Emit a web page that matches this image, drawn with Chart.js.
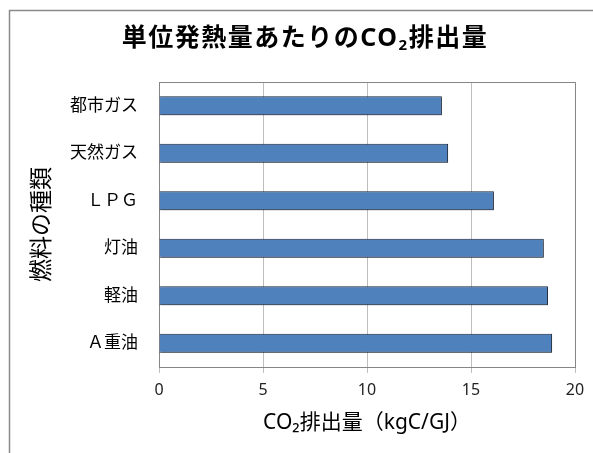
<!DOCTYPE html>
<html>
<head>
<meta charset="utf-8">
<script src="https://cdn.jsdelivr.net/npm/chart.js@4"></script>
<style>
  html, body { margin: 0; padding: 0; background: #fff; }
  #wrap { width: 593px; height: 453px; }
</style>
</head>
<body>
<div id="wrap"><canvas id="co2Chart" width="593" height="453"></canvas></div>
<script>
// fuel types (top to bottom) and CO2 emission per unit of heat (kgC/GJ)
const fuels = ["都市ガス", "天然ガス", "ＬＰＧ", "灯油", "軽油", "Ａ重油"];
const emissions = [13.6, 13.9, 16.1, 18.5, 18.7, 18.9];
const xTicks = [0, 5, 10, 15, 20];

const FONT = "'Noto Sans', 'Noto Sans CJK JP', sans-serif";

// frame, plot box and title with a real subscript
const decorations = {
  id: "decorations",
  beforeDatasetsDraw(chart) {
    const ctx = chart.ctx;
    ctx.save();
    ctx.shadowColor = "rgba(0,0,0,0.35)";
    ctx.shadowOffsetX = 1;
    ctx.shadowOffsetY = 1;
    ctx.shadowBlur = 2;
  },
  afterDatasetsDraw(chart) {
    chart.ctx.restore();
  },
  afterDraw(chart) {
    const ctx = chart.ctx;
    const a = chart.chartArea;
    ctx.save();
    // outer frame (only left and top visible)
    ctx.strokeStyle = "#8a8a8a";
    ctx.lineWidth = 1.5;
    ctx.beginPath();
    ctx.moveTo(9.5, 453);
    ctx.lineTo(9.5, 10.5);
    ctx.lineTo(593, 10.5);
    ctx.stroke();
    // plot box top and right
    ctx.strokeStyle = "#868686";
    ctx.lineWidth = 1;
    ctx.beginPath();
    ctx.moveTo(Math.round(a.left) + 0.5, Math.round(a.top) + 0.5);
    ctx.lineTo(Math.round(a.right) + 0.5, Math.round(a.top) + 0.5);
    ctx.lineTo(Math.round(a.right) + 0.5, Math.round(a.bottom));
    ctx.stroke();

    // title
    const parts = [
      { t: "単位発熱量あたりのCO", f: "bold 25px " + FONT, dy: 0 },
      { t: "2", f: "bold 15px " + FONT, dy: 7 },
      { t: "排出量", f: "bold 25px " + FONT, dy: 0 }
    ];
    ctx.fillStyle = "#000";
    ctx.textBaseline = "middle";
    ctx.textAlign = "left";
    ctx.letterSpacing = "1.5px";
    let total = 0;
    parts.forEach(p => { ctx.font = p.f; p.w = ctx.measureText(p.t).width; total += p.w; });
    let x = 305 - total / 2;
    parts.forEach(p => {
      ctx.font = p.f;
      ctx.fillText(p.t, x, 39 + p.dy);
      x += p.w;
    });
    ctx.restore();
  }
};

new Chart(document.getElementById("co2Chart").getContext("2d"), {
  type: "bar",
  data: {
    labels: fuels,
    datasets: [
      {
        label: "CO2排出量",
        data: emissions,
        backgroundColor: "#4F81BD",
        borderColor: "#1F2D45",
        borderWidth: 1,
        barPercentage: 0.8,
        categoryPercentage: 0.5
      }
    ]
  },
  options: {
    indexAxis: "y",
    responsive: false,
    animation: false,
    devicePixelRatio: 1,
    layout: { padding: { top: 82, right: 18, left: 0, bottom: 0 } },
    plugins: {
      legend: { display: false },
      title: { display: false },
      tooltip: { enabled: false }
    },
    scales: {
      x: {
        min: 0,
        max: 20,
        afterBuildTicks: (scale) => { scale.ticks = xTicks.map(v => ({ value: v })); },
        afterFit: (scale) => { scale.height = 86; },
        grid: { color: "#BEBEBE", tickLength: 6, tickColor: "#BEBEBE" },
        border: { color: "#868686" },
        ticks: { color: "#222", font: { family: FONT, size: 16 }, padding: 8 },
        title: {
          display: true,
          text: "CO₂排出量（kgC/GJ）",
          color: "#000",
          font: { family: FONT, size: 21 },
          padding: { top: 0, bottom: 17 }
        }
      },
      y: {
        afterFit: (scale) => { scale.width = 159; },
        grid: { display: false, drawTicks: false },
        border: { color: "#868686" },
        ticks: { color: "#000", font: { family: FONT, size: 17 }, padding: 21 },
        title: {
          display: true,
          text: "燃料の種類",
          color: "#000",
          font: { family: FONT, size: 23 },
          padding: { top: 29, bottom: 0 }
        }
      }
    }
  },
  plugins: [decorations]
});
</script>
</body>
</html>
